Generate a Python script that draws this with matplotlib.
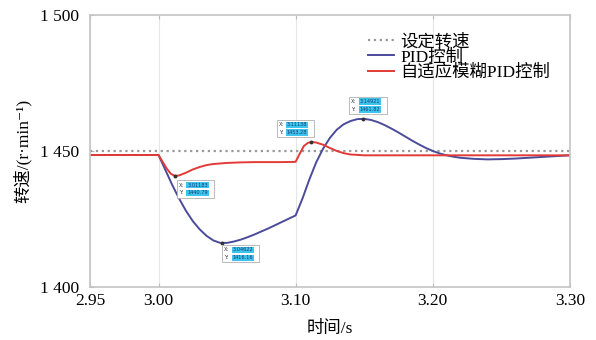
import numpy as np
import matplotlib.pyplot as plt
import matplotlib.transforms as mtransforms
from matplotlib.patches import Rectangle

# 读图估计的数据
t_pid = [2.95, 3.00, 3.005, 3.01, 3.015, 3.02, 3.025, 3.03, 3.035, 3.04, 3.045,
         3.05, 3.055, 3.06, 3.065, 3.07, 3.075, 3.08, 3.085, 3.09, 3.095, 3.10,
         3.105, 3.11, 3.115, 3.12, 3.125, 3.13, 3.135, 3.14, 3.145, 3.15, 3.155,
         3.16, 3.165, 3.17, 3.175, 3.18, 3.185, 3.19, 3.195, 3.20, 3.205, 3.21,
         3.215, 3.22, 3.23, 3.24, 3.25, 3.26, 3.27, 3.28, 3.29, 3.30]
v_pid = [1448.5, 1448.5, 1443.0, 1437.5, 1432.5, 1428.0, 1424.2, 1421.2, 1418.8, 1417.1, 1416.2,
         1416.2, 1416.7, 1417.4, 1418.3, 1419.3, 1420.4, 1421.5, 1422.7, 1423.9, 1425.1, 1426.3,
         1432.5, 1439.5, 1445.8, 1450.8, 1454.8, 1457.8, 1459.8, 1461.0, 1461.7, 1461.8, 1461.4,
         1460.6, 1459.5, 1458.2, 1456.8, 1455.3, 1453.8, 1452.4, 1451.1, 1450.0, 1449.1, 1448.4,
         1447.9, 1447.5, 1447.1, 1446.9, 1447.0, 1447.2, 1447.5, 1447.8, 1448.1, 1448.4]

t_fuzzy = [2.95, 3.00, 3.003, 3.006, 3.009, 3.012, 3.015, 3.02, 3.025, 3.03, 3.035,
           3.04, 3.05, 3.06, 3.07, 3.08, 3.09, 3.10, 3.103, 3.106, 3.109, 3.112,
           3.115, 3.12, 3.125, 3.13, 3.135, 3.14, 3.15, 3.20, 3.30]
v_fuzzy = [1448.5, 1448.5, 1446.0, 1443.5, 1441.6, 1440.8, 1441.0, 1442.0, 1443.2, 1444.1, 1444.8,
           1445.2, 1445.6, 1445.8, 1445.9, 1445.9, 1445.9, 1446.0, 1449.0, 1451.8, 1453.0, 1453.3,
           1453.1, 1452.3, 1451.1, 1450.0, 1449.2, 1448.7, 1448.4, 1448.4, 1448.4]

setpoint = 1450
x_ticks = [2.95, 3.00, 3.10, 3.20, 3.30]
y_ticks = [1400, 1450, 1500]
y_ticklabels = ['1 400', '1 450', '1 500']

# 数据提示框: 点x, 点y, X文本, Y文本, 框左上角偏移(pt)
tips = [
    (3.0118, 1440.8, '3.01183', '1440.79', (1.5, -3)),
    (3.0462, 1416.2, '3.04622', '1416.16', (0, -1.5)),
    (3.1114, 1453.3, '3.11138', '1453.28', (-25, 16)),
    (3.1492, 1461.8, '3.14921', '1461.82', (-10, 16)),
]

plt.rcParams['font.family'] = ['Liberation Serif', 'Noto Sans CJK SC', 'DejaVu Serif']

fig = plt.figure(figsize=(5.96, 3.40), dpi=100)
ax = fig.add_axes([0.151, 0.156, 0.805, 0.8])

ax.axhline(setpoint, color='#999999', linestyle=':', linewidth=1.6, label='设定转速')
ax.plot(t_pid, v_pid, color='#4b4b9b', linewidth=1.4, label='PID控制')
ax.plot(t_fuzzy, v_fuzzy, color='#e23a36', linewidth=1.4, label='自适应模糊PID控制')

box_w, box_h = 27, 12.5
for x, y, xs, ys, (dx, dy) in tips:
    ax.plot([x], [y], 'o', color='#333333', markersize=1.8, zorder=5)
    tr = mtransforms.Affine2D().scale(fig.dpi / 72) + mtransforms.ScaledTranslation(x, y, ax.transData)
    ax.add_patch(Rectangle((dx, dy - box_h), box_w, box_h, transform=tr,
                           fc='white', ec='#b0b0b0', lw=0.6, zorder=6, clip_on=False))
    for i, (lab, val) in enumerate([('X:', xs), ('Y:', ys)]):
        ty = dy - 1.8 - i * 5.6
        ax.annotate(lab, xy=(x, y), xytext=(dx + 1.5, ty), textcoords='offset points',
                    fontsize=3.6, va='top', ha='left', family='DejaVu Sans',
                    color='#333333', zorder=7)
        ax.annotate(val, xy=(x, y), xytext=(dx + 7.5, ty), textcoords='offset points',
                    fontsize=3.6, va='top', ha='left', family='DejaVu Sans',
                    color='#1a3a6a', zorder=7,
                    bbox=dict(boxstyle='square,pad=0.15', fc='#3cc4ee', ec='none'))

ax.set_xlim(2.95, 3.30)
ax.set_ylim(1400, 1500)
ax.set_xticks(x_ticks)
ax.set_xticklabels([f'{v:.2f}' for v in x_ticks])
ax.set_yticks(y_ticks)
ax.set_yticklabels(y_ticklabels)
ax.tick_params(direction='in', length=3, color='#bbbbbb', labelsize=12.5,
               top=True, right=False)
ax.tick_params(axis='y', pad=8)
ax.tick_params(axis='x', pad=4)
ax.grid(axis='x', color='#e6e6e6', linewidth=0.8)
for s in ax.spines.values():
    s.set_color('#c4c4c4')
    s.set_linewidth(1.2)

ax.set_xlabel('时间/s', fontsize=12.5, labelpad=9)
ax.set_ylabel('转速/(r·min⁻¹)', fontsize=12.5, labelpad=6)

ax.legend(loc='upper right', bbox_to_anchor=(0.985, 0.975), frameon=False,
          fontsize=12.5, handlelength=1.5, handletextpad=0.4, labelspacing=-0.05,
          borderaxespad=0.3)

fig.savefig('out.png', dpi=100)
